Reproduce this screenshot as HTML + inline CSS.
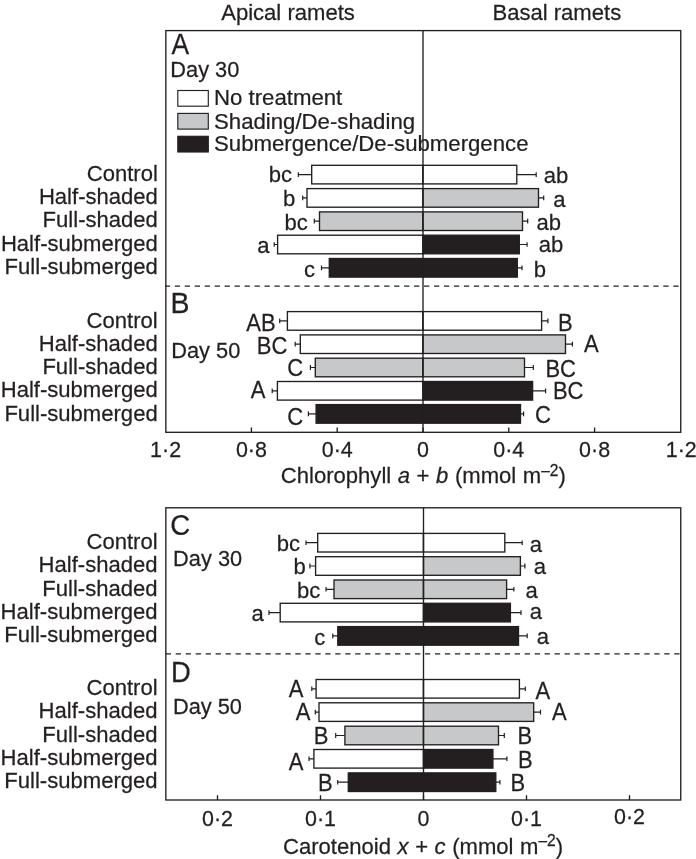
<!DOCTYPE html>
<html lang="en">
<head>
<meta charset="utf-8">
<title>Chlorophyll and carotenoid contents of apical and basal ramets</title>
<style>
html,body{margin:0;padding:0;background:#fff;}
svg{display:block;}
text{font-family:"Liberation Sans",Arial,Helvetica,sans-serif;font-size:22.7px;fill:#231f20;stroke:#231f20;stroke-width:0.25px;}
</style>
</head>
<body>
<svg width="696" height="859" viewBox="0 0 696 859">
<rect width="696" height="859" fill="#fff"/>
<text transform="translate(288.0 19.6) scale(0.973 1)" text-anchor="middle">Apical ramets</text>
<text transform="translate(556.8 19.5) scale(0.973 1)" text-anchor="middle">Basal ramets</text>
<path d="M311.7 174.6H298.3M298.3 172.3V177.0" fill="none" stroke="#231f20" stroke-width="1.2"/>
<path d="M516.8 174.6H536.2M536.2 172.3V177.0" fill="none" stroke="#231f20" stroke-width="1.2"/>
<rect x="311.7" y="165.3" width="111.3" height="18.6" fill="#fff" stroke="#231f20" stroke-width="1.35"/>
<rect x="423.0" y="165.3" width="93.8" height="18.6" fill="#fff" stroke="#231f20" stroke-width="1.35"/>
<text transform="translate(292.0 182.4) scale(0.973 1)" text-anchor="end">bc</text>
<text transform="translate(543.8 182.7) scale(0.973 1)">ab</text>
<path d="M307.0 197.9H302.7M302.7 195.5V200.2" fill="none" stroke="#231f20" stroke-width="1.2"/>
<path d="M538.5 197.9H543.7M543.7 195.5V200.2" fill="none" stroke="#231f20" stroke-width="1.2"/>
<rect x="307.0" y="188.6" width="116.0" height="18.6" fill="#fff" stroke="#231f20" stroke-width="1.35"/>
<rect x="423.0" y="188.6" width="115.5" height="18.6" fill="#c7c8ca" stroke="#231f20" stroke-width="1.35"/>
<text transform="translate(295.4 206.3) scale(0.973 1)" text-anchor="end">b</text>
<text transform="translate(553.2 207.2) scale(0.973 1)">a</text>
<path d="M319.5 221.2H314.3M314.3 218.8V223.5" fill="none" stroke="#231f20" stroke-width="1.2"/>
<path d="M522.5 221.2H527.7M527.7 218.8V223.5" fill="none" stroke="#231f20" stroke-width="1.2"/>
<rect x="319.5" y="211.9" width="103.5" height="18.6" fill="#c7c8ca" stroke="#231f20" stroke-width="1.35"/>
<rect x="423.0" y="211.9" width="99.5" height="18.6" fill="#c7c8ca" stroke="#231f20" stroke-width="1.35"/>
<text transform="translate(307.7 229.5) scale(0.973 1)" text-anchor="end">bc</text>
<text transform="translate(536.6 229.5) scale(0.973 1)">ab</text>
<path d="M277.6 244.5H274.2M274.2 242.2V246.8" fill="none" stroke="#231f20" stroke-width="1.2"/>
<path d="M519.3 244.5H527.1M527.1 242.2V246.8" fill="none" stroke="#231f20" stroke-width="1.2"/>
<rect x="277.6" y="235.2" width="145.4" height="18.6" fill="#fff" stroke="#231f20" stroke-width="1.35"/>
<rect x="423.0" y="235.2" width="96.3" height="18.6" fill="#231f20" stroke="#231f20" stroke-width="1.35"/>
<text transform="translate(269.5 252.9) scale(0.973 1)" text-anchor="end">a</text>
<text transform="translate(538.8 251.5) scale(0.973 1)">ab</text>
<path d="M329.3 267.8H321.5M321.5 265.4V270.2" fill="none" stroke="#231f20" stroke-width="1.2"/>
<path d="M517.3 267.8H522.0M522.0 265.4V270.2" fill="none" stroke="#231f20" stroke-width="1.2"/>
<rect x="329.3" y="258.5" width="93.7" height="18.6" fill="#231f20" stroke="#231f20" stroke-width="1.35"/>
<rect x="423.0" y="258.5" width="94.3" height="18.6" fill="#231f20" stroke="#231f20" stroke-width="1.35"/>
<text transform="translate(315.0 276.5) scale(0.973 1)" text-anchor="end">c</text>
<text transform="translate(533.8 276.8) scale(0.973 1)">b</text>
<text transform="translate(157.9 180.8) scale(0.973 1)" text-anchor="end">Control</text>
<text transform="translate(157.9 204.0) scale(0.973 1)" text-anchor="end">Half-shaded</text>
<text transform="translate(157.9 227.3) scale(0.973 1)" text-anchor="end">Full-shaded</text>
<text transform="translate(157.9 250.5) scale(0.973 1)" text-anchor="end">Half-submerged</text>
<text transform="translate(157.9 273.5) scale(0.973 1)" text-anchor="end">Full-submerged</text>
<path d="M287.4 320.9H279.7M279.7 318.6V323.3" fill="none" stroke="#231f20" stroke-width="1.2"/>
<path d="M541.6 320.9H547.9M547.9 318.6V323.3" fill="none" stroke="#231f20" stroke-width="1.2"/>
<rect x="287.4" y="311.6" width="135.6" height="18.6" fill="#fff" stroke="#231f20" stroke-width="1.35"/>
<rect x="423.0" y="311.6" width="118.6" height="18.6" fill="#fff" stroke="#231f20" stroke-width="1.35"/>
<text transform="translate(275.6 331.2) scale(0.905 1)" text-anchor="end" style="font-size:24.3px">AB</text>
<text transform="translate(557.9 330.8) scale(0.905 1)" style="font-size:24.3px">B</text>
<path d="M300.3 344.2H295.2M295.2 341.8V346.6" fill="none" stroke="#231f20" stroke-width="1.2"/>
<path d="M565.5 344.2H572.4M572.4 341.8V346.6" fill="none" stroke="#231f20" stroke-width="1.2"/>
<rect x="300.3" y="334.9" width="122.7" height="18.6" fill="#fff" stroke="#231f20" stroke-width="1.35"/>
<rect x="423.0" y="334.9" width="142.5" height="18.6" fill="#c7c8ca" stroke="#231f20" stroke-width="1.35"/>
<text transform="translate(287.3 353.6) scale(0.905 1)" text-anchor="end" style="font-size:24.3px">BC</text>
<text transform="translate(584.0 352.4) scale(0.905 1)" style="font-size:24.3px">A</text>
<path d="M315.3 367.5H310.4M310.4 365.1V369.9" fill="none" stroke="#231f20" stroke-width="1.2"/>
<path d="M524.5 367.5H533.3M533.3 365.1V369.9" fill="none" stroke="#231f20" stroke-width="1.2"/>
<rect x="315.3" y="358.2" width="107.7" height="18.6" fill="#c7c8ca" stroke="#231f20" stroke-width="1.35"/>
<rect x="423.0" y="358.2" width="101.5" height="18.6" fill="#c7c8ca" stroke="#231f20" stroke-width="1.35"/>
<text transform="translate(303.2 375.6) scale(0.905 1)" text-anchor="end" style="font-size:24.3px">C</text>
<text transform="translate(545.4 376.5) scale(0.905 1)" style="font-size:24.3px">BC</text>
<path d="M277.4 390.8H272.2M272.2 388.4V393.2" fill="none" stroke="#231f20" stroke-width="1.2"/>
<path d="M532.6 390.8H545.6M545.6 388.4V393.2" fill="none" stroke="#231f20" stroke-width="1.2"/>
<rect x="277.4" y="381.5" width="145.6" height="18.6" fill="#fff" stroke="#231f20" stroke-width="1.35"/>
<rect x="423.0" y="381.5" width="109.6" height="18.6" fill="#231f20" stroke="#231f20" stroke-width="1.35"/>
<text transform="translate(265.5 398.2) scale(0.905 1)" text-anchor="end" style="font-size:24.3px">A</text>
<text transform="translate(552.9 399.1) scale(0.905 1)" style="font-size:24.3px">BC</text>
<path d="M316.1 413.9H308.4M308.4 411.6V416.3" fill="none" stroke="#231f20" stroke-width="1.2"/>
<path d="M520.5 413.9H523.6M523.6 411.6V416.3" fill="none" stroke="#231f20" stroke-width="1.2"/>
<rect x="316.1" y="404.6" width="106.9" height="18.6" fill="#231f20" stroke="#231f20" stroke-width="1.35"/>
<rect x="423.0" y="404.6" width="97.5" height="18.6" fill="#231f20" stroke="#231f20" stroke-width="1.35"/>
<text transform="translate(303.2 424.8) scale(0.905 1)" text-anchor="end" style="font-size:24.3px">C</text>
<text transform="translate(535.0 423.2) scale(0.905 1)" style="font-size:24.3px">C</text>
<text transform="translate(157.7 327.9) scale(0.973 1)" text-anchor="end">Control</text>
<text transform="translate(157.7 350.6) scale(0.973 1)" text-anchor="end">Half-shaded</text>
<text transform="translate(157.7 374.0) scale(0.973 1)" text-anchor="end">Full-shaded</text>
<text transform="translate(157.7 397.2) scale(0.973 1)" text-anchor="end">Half-submerged</text>
<text transform="translate(157.7 420.5) scale(0.973 1)" text-anchor="end">Full-submerged</text>
<text transform="translate(171.5 54.1) scale(0.905 1)" style="font-size:29.2px">A</text>
<text transform="translate(170.3 76.6) scale(0.96 1)">Day 30</text>
<text transform="translate(170.4 313.1) scale(0.975 1)" style="font-size:29.2px">B</text>
<text transform="translate(171.2 357.8) scale(0.96 1)">Day 50</text>
<rect x="177.8" y="90.5" width="30.5" height="15.7" fill="#fff" stroke="#231f20" stroke-width="1.15"/>
<text transform="translate(214.0 104.9) scale(0.978 1)">No treatment</text>
<rect x="177.8" y="113.4" width="30.5" height="15.7" fill="#c7c8ca" stroke="#231f20" stroke-width="1.15"/>
<text transform="translate(214.0 128.6) scale(0.978 1)">Shading/De-shading</text>
<rect x="177.8" y="136.3" width="30.5" height="15.7" fill="#231f20" stroke="#231f20" stroke-width="1.15"/>
<text transform="translate(214.0 151.0) scale(0.978 1)">Submergence/De-submergence</text>
<path d="M165.0 286.1H680.7" stroke="#231f20" stroke-width="1.35" stroke-dasharray="5.3 4.67" stroke-dashoffset="0.2" fill="none"/>
<rect x="165.85" y="30.6" width="514.9" height="401.7" fill="none" stroke="#231f20" stroke-width="1.35"/>
<path d="M423.0 30.6V432.3" stroke="#231f20" stroke-width="1.35" fill="none"/>
<text transform="translate(165.6 457.0) scale(0.945 1)" text-anchor="middle">1·2</text>
<path d="M251.4 432.3v-4.8" stroke="#231f20" stroke-width="1.35" fill="none"/>
<text transform="translate(251.4 457.0) scale(0.945 1)" text-anchor="middle">0·8</text>
<path d="M337.2 432.3v-4.8" stroke="#231f20" stroke-width="1.35" fill="none"/>
<text transform="translate(337.2 457.0) scale(0.945 1)" text-anchor="middle">0·4</text>
<path d="M423.0 432.3v-4.8" stroke="#231f20" stroke-width="1.35" fill="none"/>
<text transform="translate(423.0 457.0) scale(0.945 1)" text-anchor="middle">0</text>
<path d="M508.8 432.3v-4.8" stroke="#231f20" stroke-width="1.35" fill="none"/>
<text transform="translate(508.8 457.0) scale(0.945 1)" text-anchor="middle">0·4</text>
<path d="M594.6 432.3v-4.8" stroke="#231f20" stroke-width="1.35" fill="none"/>
<text transform="translate(594.6 457.0) scale(0.945 1)" text-anchor="middle">0·8</text>
<text transform="translate(696.8 457.0) scale(0.945 1)" text-anchor="end">1·2</text>
<text transform="translate(280.8 483.1) scale(0.973 1)" word-spacing="0.45">Chlorophyll <tspan font-style="italic">a</tspan> + <tspan font-style="italic">b</tspan> (mmol m<tspan style="font-size:16px" dy="-7.4">–2</tspan><tspan dy="7.4">)</tspan></text>
<path d="M317.7 542.7H306.0M306.0 540.4V545.1" fill="none" stroke="#231f20" stroke-width="1.2"/>
<path d="M504.8 542.7H522.2M522.2 540.4V545.1" fill="none" stroke="#231f20" stroke-width="1.2"/>
<rect x="317.7" y="533.4" width="105.8" height="18.6" fill="#fff" stroke="#231f20" stroke-width="1.35"/>
<rect x="423.5" y="533.4" width="81.3" height="18.6" fill="#fff" stroke="#231f20" stroke-width="1.35"/>
<text transform="translate(300.0 550.5) scale(0.973 1)" text-anchor="end">bc</text>
<text transform="translate(529.7 551.7) scale(0.973 1)">a</text>
<path d="M315.6 566.0H309.9M309.9 563.6V568.4" fill="none" stroke="#231f20" stroke-width="1.2"/>
<path d="M520.4 566.0H524.9M524.9 563.6V568.4" fill="none" stroke="#231f20" stroke-width="1.2"/>
<rect x="315.6" y="556.7" width="107.9" height="18.6" fill="#fff" stroke="#231f20" stroke-width="1.35"/>
<rect x="423.5" y="556.7" width="96.9" height="18.6" fill="#c7c8ca" stroke="#231f20" stroke-width="1.35"/>
<text transform="translate(305.7 574.3) scale(0.973 1)" text-anchor="end">b</text>
<text transform="translate(533.7 574.1) scale(0.973 1)">a</text>
<path d="M334.0 589.3H326.0M326.0 586.9V591.6" fill="none" stroke="#231f20" stroke-width="1.2"/>
<path d="M506.6 589.3H513.9M513.9 586.9V591.6" fill="none" stroke="#231f20" stroke-width="1.2"/>
<rect x="334.0" y="580.0" width="89.5" height="18.6" fill="#c7c8ca" stroke="#231f20" stroke-width="1.35"/>
<rect x="423.5" y="580.0" width="83.1" height="18.6" fill="#c7c8ca" stroke="#231f20" stroke-width="1.35"/>
<text transform="translate(320.4 597.9) scale(0.973 1)" text-anchor="end">bc</text>
<text transform="translate(525.5 597.6) scale(0.973 1)">a</text>
<path d="M280.2 612.6H269.0M269.0 610.2V614.9" fill="none" stroke="#231f20" stroke-width="1.2"/>
<path d="M510.4 612.6H521.0M521.0 610.2V614.9" fill="none" stroke="#231f20" stroke-width="1.2"/>
<rect x="280.2" y="603.3" width="143.3" height="18.6" fill="#fff" stroke="#231f20" stroke-width="1.35"/>
<rect x="423.5" y="603.3" width="86.9" height="18.6" fill="#231f20" stroke="#231f20" stroke-width="1.35"/>
<text transform="translate(263.8 620.9) scale(0.973 1)" text-anchor="end">a</text>
<text transform="translate(529.7 619.4) scale(0.973 1)">a</text>
<path d="M337.8 635.9H332.8M332.8 633.6V638.3" fill="none" stroke="#231f20" stroke-width="1.2"/>
<path d="M518.5 635.9H527.2M527.2 633.6V638.3" fill="none" stroke="#231f20" stroke-width="1.2"/>
<rect x="337.8" y="626.6" width="85.7" height="18.6" fill="#231f20" stroke="#231f20" stroke-width="1.35"/>
<rect x="423.5" y="626.6" width="95.0" height="18.6" fill="#231f20" stroke="#231f20" stroke-width="1.35"/>
<text transform="translate(325.4 644.8) scale(0.973 1)" text-anchor="end">c</text>
<text transform="translate(536.7 644.0) scale(0.973 1)">a</text>
<text transform="translate(157.6 548.8) scale(0.973 1)" text-anchor="end">Control</text>
<text transform="translate(157.6 572.3) scale(0.973 1)" text-anchor="end">Half-shaded</text>
<text transform="translate(157.6 595.7) scale(0.973 1)" text-anchor="end">Full-shaded</text>
<text transform="translate(157.6 619.0) scale(0.973 1)" text-anchor="end">Half-submerged</text>
<text transform="translate(157.6 642.4) scale(0.973 1)" text-anchor="end">Full-submerged</text>
<path d="M316.1 688.8H311.8M311.8 686.4V691.1" fill="none" stroke="#231f20" stroke-width="1.2"/>
<path d="M519.4 688.8H525.3M525.3 686.4V691.1" fill="none" stroke="#231f20" stroke-width="1.2"/>
<rect x="316.1" y="679.5" width="107.4" height="18.6" fill="#fff" stroke="#231f20" stroke-width="1.35"/>
<rect x="423.5" y="679.5" width="95.9" height="18.6" fill="#fff" stroke="#231f20" stroke-width="1.35"/>
<text transform="translate(303.4 696.8) scale(0.905 1)" text-anchor="end" style="font-size:24.3px">A</text>
<text transform="translate(535.6 698.9) scale(0.905 1)" style="font-size:24.3px">A</text>
<path d="M319.0 712.1H315.3M315.3 709.7V714.4" fill="none" stroke="#231f20" stroke-width="1.2"/>
<path d="M533.7 712.1H540.5M540.5 709.7V714.4" fill="none" stroke="#231f20" stroke-width="1.2"/>
<rect x="319.0" y="702.8" width="104.5" height="18.6" fill="#fff" stroke="#231f20" stroke-width="1.35"/>
<rect x="423.5" y="702.8" width="110.2" height="18.6" fill="#c7c8ca" stroke="#231f20" stroke-width="1.35"/>
<text transform="translate(310.3 719.9) scale(0.905 1)" text-anchor="end" style="font-size:24.3px">A</text>
<text transform="translate(552.0 720.2) scale(0.905 1)" style="font-size:24.3px">A</text>
<path d="M344.9 735.5H335.7M335.7 733.1V737.9" fill="none" stroke="#231f20" stroke-width="1.2"/>
<path d="M498.5 735.5H504.3M504.3 733.1V737.9" fill="none" stroke="#231f20" stroke-width="1.2"/>
<rect x="344.9" y="726.2" width="78.6" height="18.6" fill="#c7c8ca" stroke="#231f20" stroke-width="1.35"/>
<rect x="423.5" y="726.2" width="75.0" height="18.6" fill="#c7c8ca" stroke="#231f20" stroke-width="1.35"/>
<text transform="translate(328.3 744.4) scale(0.905 1)" text-anchor="end" style="font-size:24.3px">B</text>
<text transform="translate(517.5 744.4) scale(0.905 1)" style="font-size:24.3px">B</text>
<path d="M313.9 758.8H309.0M309.0 756.4V761.1" fill="none" stroke="#231f20" stroke-width="1.2"/>
<path d="M492.9 758.8H506.9M506.9 756.4V761.1" fill="none" stroke="#231f20" stroke-width="1.2"/>
<rect x="313.9" y="749.5" width="109.6" height="18.6" fill="#fff" stroke="#231f20" stroke-width="1.35"/>
<rect x="423.5" y="749.5" width="69.4" height="18.6" fill="#231f20" stroke="#231f20" stroke-width="1.35"/>
<text transform="translate(303.4 769.6) scale(0.905 1)" text-anchor="end" style="font-size:24.3px">A</text>
<text transform="translate(518.0 767.6) scale(0.905 1)" style="font-size:24.3px">B</text>
<path d="M348.3 782.2H337.7M337.7 779.9V784.6" fill="none" stroke="#231f20" stroke-width="1.2"/>
<path d="M495.8 782.2H499.9M499.9 779.9V784.6" fill="none" stroke="#231f20" stroke-width="1.2"/>
<rect x="348.3" y="772.9" width="75.2" height="18.6" fill="#231f20" stroke="#231f20" stroke-width="1.35"/>
<rect x="423.5" y="772.9" width="72.3" height="18.6" fill="#231f20" stroke="#231f20" stroke-width="1.35"/>
<text transform="translate(332.6 790.8) scale(0.905 1)" text-anchor="end" style="font-size:24.3px">B</text>
<text transform="translate(510.6 791.0) scale(0.905 1)" style="font-size:24.3px">B</text>
<text transform="translate(157.6 695.1) scale(0.973 1)" text-anchor="end">Control</text>
<text transform="translate(157.6 718.4) scale(0.973 1)" text-anchor="end">Half-shaded</text>
<text transform="translate(157.6 741.6) scale(0.973 1)" text-anchor="end">Full-shaded</text>
<text transform="translate(157.6 765.0) scale(0.973 1)" text-anchor="end">Half-submerged</text>
<text transform="translate(157.6 788.4) scale(0.973 1)" text-anchor="end">Full-submerged</text>
<text transform="translate(170.3 535.1) scale(0.947 1)" style="font-size:29.2px">C</text>
<text transform="translate(173.1 565.7) scale(0.96 1)">Day 30</text>
<text transform="translate(170.9 682.0) scale(0.937 1)" style="font-size:29.2px">D</text>
<text transform="translate(172.9 713.6) scale(0.96 1)">Day 50</text>
<path d="M165.75 653.9H680.7" stroke="#231f20" stroke-width="1.35" stroke-dasharray="5.3 4.67" fill="none"/>
<rect x="165.85" y="507.8" width="514.9" height="292.2" fill="none" stroke="#231f20" stroke-width="1.35"/>
<path d="M423.5 507.8V800.0" stroke="#231f20" stroke-width="1.35" fill="none"/>
<path d="M217.5 800.0v-4.8" stroke="#231f20" stroke-width="1.35" fill="none"/>
<text transform="translate(217.5 825.8) scale(0.945 1)" text-anchor="middle">0·2</text>
<path d="M320.5 800.0v-4.8" stroke="#231f20" stroke-width="1.35" fill="none"/>
<text transform="translate(320.5 825.8) scale(0.945 1)" text-anchor="middle">0·1</text>
<path d="M423.5 800.0v-4.8" stroke="#231f20" stroke-width="1.35" fill="none"/>
<text transform="translate(423.5 825.8) scale(0.945 1)" text-anchor="middle">0</text>
<path d="M526.5 800.0v-4.8" stroke="#231f20" stroke-width="1.35" fill="none"/>
<text transform="translate(526.5 825.8) scale(0.945 1)" text-anchor="middle">0·1</text>
<path d="M629.5 800.0v-4.8" stroke="#231f20" stroke-width="1.35" fill="none"/>
<text transform="translate(629.5 824.4) scale(0.945 1)" text-anchor="middle">0·2</text>
<text transform="translate(283.0 853.7) scale(0.973 1)" word-spacing="0.45">Carotenoid <tspan font-style="italic">x</tspan> + <tspan font-style="italic">c</tspan> (mmol m<tspan style="font-size:16px" dy="-7.4">–2</tspan><tspan dy="7.4">)</tspan></text>
</svg>
</body>
</html>
